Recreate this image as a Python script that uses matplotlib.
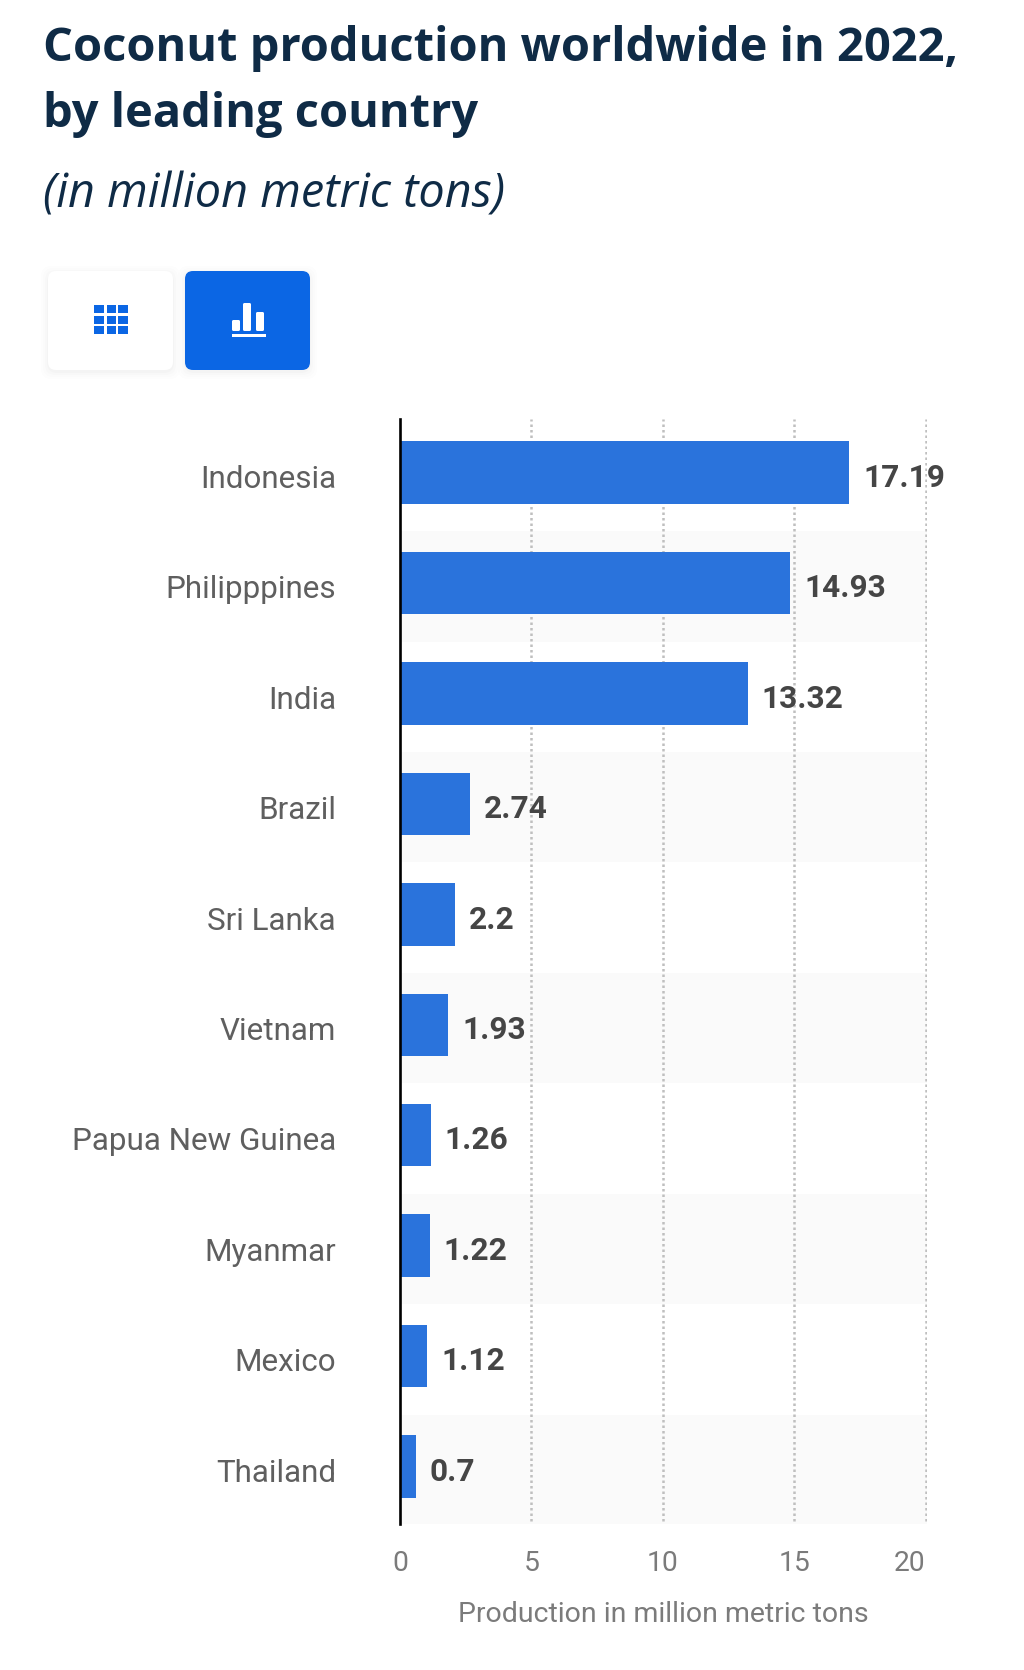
# Coconut production bar chart

import matplotlib
matplotlib.use("Agg")
import matplotlib.pyplot as plt
from matplotlib.patches import FancyBboxPatch, Rectangle
from matplotlib.transforms import ScaledTranslation

countries = ['Indonesia', 'Philipppines', 'India', 'Brazil', 'Sri Lanka',
             'Vietnam', 'Papua New Guinea', 'Myanmar', 'Mexico', 'Thailand']
production = [17.19, 14.93, 13.32, 2.74, 2.2, 1.93, 1.26, 1.22, 1.12, 0.7]
value_labels = ['17.19', '14.93', '13.32', '2.74', '2.2', '1.93', '1.26', '1.22', '1.12', '0.7']
x_ticks = [0, 5, 10, 15, 20]

W, H = 1024, 1670
BLUE = '#2a73dc'
BUTTON = '#0b66e4'
BAR_SHIFT = -0.09  # bars start just under the thick axis line

fig = plt.figure(figsize=(W / 100, H / 100), dpi=100, facecolor='white')

# Overlay in pixel coordinates for the titles and the two buttons
ui = fig.add_axes([0, 0, 1, 1])
ui.set_xlim(0, W)
ui.set_ylim(H, 0)
ui.axis('off')

ui.text(43, 48, 'Coconut production worldwide in 2022,', family='Open Sans', weight='bold',
        fontsize=33.8, color='#0f2b46', va='center')
ui.text(43, 114, 'by leading country', family='Open Sans', weight='bold',
        fontsize=33.8, color='#0f2b46', va='center')
ui.text(43, 195, '(in million metric tons)', family='Open Sans', style='italic',
        fontsize=33.65, color='#0f2b46', va='center')


def button(x, y, w, h, color):
    # soft shadow, then the button
    for grow, alpha in [(7, 0.006), (5, 0.009), (3, 0.012), (1, 0.015)]:
        ui.add_patch(FancyBboxPatch((x - grow, y - grow + 2), w + 2 * grow, h + 2 * grow,
                                    boxstyle='round,pad=0,rounding_size=10',
                                    fc='black', ec='none', alpha=alpha))
    ui.add_patch(FancyBboxPatch((x, y), w, h, boxstyle='round,pad=0,rounding_size=8',
                                fc=color, ec='none'))


button(48, 271, 125, 99, 'white')
button(185, 271, 125, 99, BUTTON)

# table icon
for gx, gw in [(94, 10), (107, 9), (118, 10)]:
    for gy in [305, 316, 326]:
        ui.add_patch(Rectangle((gx, gy), gw, 8, fc=BUTTON, ec='none'))

# chart icon
for bx, by, bh in [(232, 320, 11), (243, 303, 28), (256, 312, 19)]:
    ui.add_patch(FancyBboxPatch((bx, by), 8, bh, boxstyle='round,pad=0,rounding_size=1.5',
                                fc='white', ec='none'))
ui.add_patch(Rectangle((232, 334), 34, 3, fc='white', ec='none'))

# Chart area
ax = fig.add_axes([400 / W, 1 - 1524 / H, 527 / W, 1105 / H])
ax.patch.set_alpha(0)
ax.set_xlim(0, 20.05)
ax.set_ylim(9.52, -0.485)

positions = list(range(len(countries)))

for i in positions:
    if i % 2 == 1:
        ax.axhspan(i - 0.47, i + 0.53, color='#fafafa', lw=0, zorder=0)

ax.vlines(x_ticks[1:], 9.49, -0.485, colors='#bfbfbf', linestyles=(0, (1, 1.2)), lw=1.8, zorder=1)

ax.barh(positions, production, left=BAR_SHIFT, height=0.565, color=BLUE, zorder=2)

for i in positions:
    ax.annotate(value_labels[i], (production[i] + BAR_SHIFT, i + 0.047), xytext=(10, 0),
                textcoords='offset points', family='Roboto', weight='bold',
                fontsize=22.8, color='#454545', va='center', zorder=3)

for spine in ['top', 'right', 'bottom']:
    ax.spines[spine].set_visible(False)
ax.spines['left'].set_linewidth(1.9)
ax.spines['left'].set_color('black')
ax.spines['left'].set_zorder(4)

ax.set_yticks(positions)
ax.set_yticklabels(countries, family='Roboto', fontsize=22.6, color='#5f5f5f')
ax.tick_params(axis='y', length=0, pad=46)
drop = ScaledTranslation(0, -2.7 / 72, fig.dpi_scale_trans)
for label in ax.get_yticklabels():
    label.set_transform(label.get_transform() + drop)

ax.set_xticks(x_ticks)
ax.set_xticklabels(x_ticks, family='Roboto', fontsize=20.3, color='#7b7b7b')
ax.tick_params(axis='x', length=0, pad=18.5)
ax.get_xticklabels()[-1].set_ha('right')

ax.set_xlabel('Production in million metric tons', family='Roboto', fontsize=20.5,
              color='#7b7b7b', labelpad=17.5)

fig.savefig('out.png', dpi=100)
